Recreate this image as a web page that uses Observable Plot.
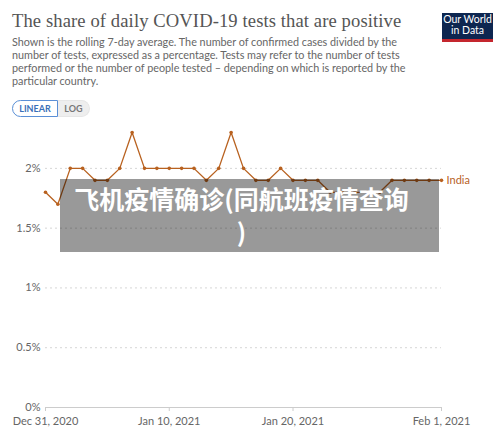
<!DOCTYPE html>
<html>
<head>
<meta charset="utf-8">
<script src="https://cdn.jsdelivr.net/npm/d3@7"></script>
<script src="https://cdn.jsdelivr.net/npm/@observablehq/plot@0.6"></script>
<style>
  html, body { margin:0; padding:0; background:#fff; }
  body { width:500px; height:432px; position:relative; overflow:hidden; font-family: Lato, "Noto Sans", sans-serif; }
  #title { position:absolute; left:12px; top:10px; font-family:"Liberation Serif", "DejaVu Serif", serif; font-size:18.6px; color:#555; white-space:nowrap; letter-spacing:0.1px; }
  #subtitle { position:absolute; left:12px; top:35px; width:402px; font-size:10.8px; line-height:13px; color:#666; }
  #logo { position:absolute; left:442px; top:13px; width:51px; height:25px; background:#0d2650; border-bottom:3px solid #c4262e; color:#fff; font-size:10.5px; line-height:11px; text-align:center; padding-top:1px; box-sizing:content-box; }
  #toggle { position:absolute; left:12px; top:100px; height:17px; display:flex; font-size:9px; font-weight:bold; }
  #toggle .lin { width:44px; text-align:center; border:1px solid #5a8fd6; color:#3a6fb8; border-radius:9px 0 0 9px; line-height:16px; background:#fff; }
  #toggle .log { width:31px; text-align:center; border:1px solid #e6e6e6; border-left:none; background:#eee; color:#777; border-radius:0 9px 9px 0; line-height:16px; }
  #chart { position:absolute; left:0; top:120px; }
  #overlay { position:absolute; left:60px; top:179px; width:379px; height:73px; background:rgba(0,0,0,0.4); color:#fff; font-family:"Noto Sans CJK SC", sans-serif; font-weight:bold; font-size:25px; line-height:33px; text-align:center; padding-top:3px; padding-right:16px; box-sizing:border-box; }
</style>
</head>
<body>
<div id="title">The share of daily COVID-19 tests that are positive</div>
<div id="subtitle">Shown is the rolling 7-day average. The number of confirmed cases divided by the number of tests, expressed as a percentage. Tests may refer to the number of tests performed or the number of people tested – depending on which is reported by the particular country.</div>
<div id="logo">Our World<br>in Data</div>
<div id="toggle"><div class="lin">LINEAR</div><div class="log">LOG</div></div>
<div id="chart"></div>
<div id="overlay">飞机疫情确诊(同航班疫情查询<br>)</div>
<script>
const country = "India";
const dates = [
  "2020-12-31","2021-01-01","2021-01-02","2021-01-03","2021-01-04","2021-01-05","2021-01-06","2021-01-07",
  "2021-01-08","2021-01-09","2021-01-10","2021-01-11","2021-01-12","2021-01-13","2021-01-14","2021-01-15",
  "2021-01-16","2021-01-17","2021-01-18","2021-01-19","2021-01-20","2021-01-21","2021-01-22","2021-01-23",
  "2021-01-24","2021-01-25","2021-01-26","2021-01-27","2021-01-28","2021-01-29","2021-01-30","2021-01-31",
  "2021-02-01"
];
const positiveShare = [
  1.8,1.7,2.0,2.0,1.9,1.9,2.0,2.3,
  2.0,2.0,2.0,2.0,2.0,1.9,2.0,2.3,
  2.0,1.9,1.9,2.0,1.9,1.9,1.9,1.8,
  1.8,1.8,1.8,1.8,1.9,1.9,1.9,1.9,
  1.9
];
const yTicks = [0, 0.5, 1, 1.5, 2];
const yTickLabels = ["0%", "0.5%", "1%", "1.5%", "2%"];
const xTicks = ["2020-12-31", "2021-01-10", "2021-01-20", "2021-02-01"];
const xTickLabels = ["Dec 31, 2020", "Jan 10, 2021", "Jan 20, 2021", "Feb 1, 2021"];

const lineColor = "#b8611f";
const data = dates.map((d, i) => ({date: new Date(d + "T00:00:00Z"), value: positiveShare[i]}));
const xTickDates = xTicks.map(d => new Date(d + "T00:00:00Z"));

const chart = Plot.plot({
  width: 500,
  height: 312,
  marginLeft: 45,
  marginRight: 59,
  marginTop: 12,
  marginBottom: 25,
  style: {fontFamily: "Lato, 'Noto Sans', sans-serif", fontSize: "11px", color: "#666", background: "transparent", overflow: "visible"},
  x: {type: "utc", domain: [data[0].date, data[data.length - 1].date]},
  y: {domain: [0, 2.3]},
  marks: [
    Plot.ruleY(yTicks.filter(d => d > 0), {stroke: "#d6d6d6", strokeDasharray: "2,3"}),
    Plot.ruleY([0], {stroke: "#ccc"}),
    Plot.axisY(yTicks, {tickSize: 0, tickPadding: 5, tickFormat: (d, i) => yTickLabels[i], label: null, fill: "#666"}),
    Plot.axisX(xTickDates, {tickSize: 4, tickPadding: 6, stroke: "#ccc", tickFormat: (d, i) => xTickLabels[i], label: null, fill: "#666"}),
    Plot.line(data, {x: "date", y: "value", stroke: lineColor, strokeWidth: 1.3}),
    Plot.dot(data, {x: "date", y: "value", r: 1.8, fill: lineColor}),
    Plot.text([data[data.length - 1]], {x: "date", y: "value", text: () => country, dx: 5, textAnchor: "start", fill: lineColor, fontSize: 11})
  ]
});
document.getElementById("chart").appendChild(chart);
</script>
</body>
</html>
